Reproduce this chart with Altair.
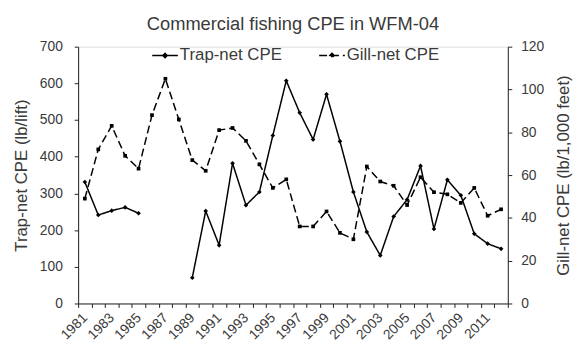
import altair as alt
import pandas as pd

years = list(range(1981, 2013))
trap_net = [331, 241, 253, 262, 246, None, None, None, 70, 252, 159, 382, 268, 304,
            458, 607, 520, 447, 570, 442, 304, 195, 131, 237, 283, 375, 203, 337,
            295, 190, 163, 149]
gill_net = [49, 72, 83, 69, 63, 88, 105, 86, 67, 62, 81, 82, 76, 65, 54, 58, 36,
            36, 43, 33, 30, 64, 57, 55, 46, 59, 52, 51, 47, 54, 41, 44]
series_names = ["Trap-net CPE", "Gill-net CPE"]

trap_rows = []
seg = 0
for y, v in zip(years, trap_net):
    if v is None:
        seg += 1
        continue
    trap_rows.append({"Year": y, "Value": v, "Series": series_names[0], "Seg": seg})
trap_df = pd.DataFrame(trap_rows)
gill_df = pd.DataFrame({"Year": years, "Value": gill_net,
                        "Series": [series_names[1]] * len(years), "Seg": 0})

FONT = "Liberation Sans"
TXT = "#3a3a3a"
AX = "#222222"

x_enc = alt.X("Year:O", sort=years,
              scale=alt.Scale(type="band", domain=years, paddingInner=0, paddingOuter=0),
              axis=alt.Axis(title=None, labelAngle=-45, labelAlign="right",
                            labelBaseline="middle", labelPadding=8,
                            labelExpr="toNumber(datum.value) % 2 == 1 ? datum.label : ''",
                            tickBand="extent", tickSize=4, labelFontSize=14,
                            labelColor=TXT, domainColor=AX, tickColor=AX,
                            labelOverlap=False, grid=False))

dash = alt.StrokeDash("Series:N",
                      scale=alt.Scale(domain=series_names, range=[[1, 0], [8, 4]]),
                      legend=alt.Legend(title=None, orient="none", direction="horizontal",
                                        legendX=74, legendY=-5,
                                        symbolType="M-1,0H1M-0.17,0L0,-0.17L0.17,0L0,0.17Z",
                                        symbolSize=676, symbolStrokeWidth=1.5,
                                        symbolStrokeColor="black",
                                        symbolFillColor="black",
                                        labelFontSize=17, labelColor=TXT, labelFont=FONT,
                                        columnPadding=34, labelOffset=1))

y_left = alt.Y("Value:Q", scale=alt.Scale(domain=[0, 700]),
               axis=alt.Axis(title="Trap-net CPE (lb/lift)", orient="left",
                             values=list(range(0, 701, 100)), tickSize=4,
                             labelPadding=12, labelFontSize=14, labelColor=TXT,
                             titleFontSize=17, titleFontWeight="normal", titleColor=TXT,
                             titlePadding=9, domainColor=AX, tickColor=AX,
                             grid=False))
y_right = alt.Y("Value:Q", scale=alt.Scale(domain=[0, 120]),
                axis=alt.Axis(title="Gill-net CPE (lb/1,000 feet)", orient="right",
                              values=list(range(0, 121, 20)), tickSize=4,
                              labelPadding=9, labelFontSize=14, labelColor=TXT,
                              titleFontSize=17, titleFontWeight="normal", titleColor=TXT,
                              titleAngle=270, titleBaseline="top", titlePadding=12,
                              domainColor=AX, tickColor=AX, grid=False))

trap_line = alt.Chart(trap_df).mark_line(color="black", strokeWidth=1.5).encode(
    x=x_enc, y=y_left, strokeDash=dash, detail="Seg:N")
trap_pts = alt.Chart(trap_df).mark_point(shape="diamond", size=22, filled=True,
                                         color="black", opacity=1).encode(x=x_enc, y=y_left)
trap = alt.layer(trap_line, trap_pts)

gill_line = alt.Chart(gill_df).mark_line(color="black", strokeWidth=1.5).encode(
    x=x_enc, y=y_right, strokeDash=dash)
gill_pts = alt.Chart(gill_df).mark_point(shape="square", size=14, filled=True,
                                         color="black", opacity=1).encode(x=x_enc, y=y_right)
gill = alt.layer(gill_line, gill_pts)

chart = alt.layer(trap, gill).resolve_scale(y="independent").properties(
    width=435, height=260,
    autosize=alt.AutoSizeParams(type="none"),
    padding={"left": 71, "top": 37, "right": 66, "bottom": 48},
    title=alt.TitleParams("Commercial fishing CPE in WFM-04", fontSize=18.5,
                          fontWeight="normal", font=FONT, color=TXT,
                          anchor="middle", baseline="alphabetic", offset=0, dy=9),
).configure_view(stroke=None).configure(font=FONT)

chart.save("out.html", embed_options={"renderer": "svg", "actions": False})
